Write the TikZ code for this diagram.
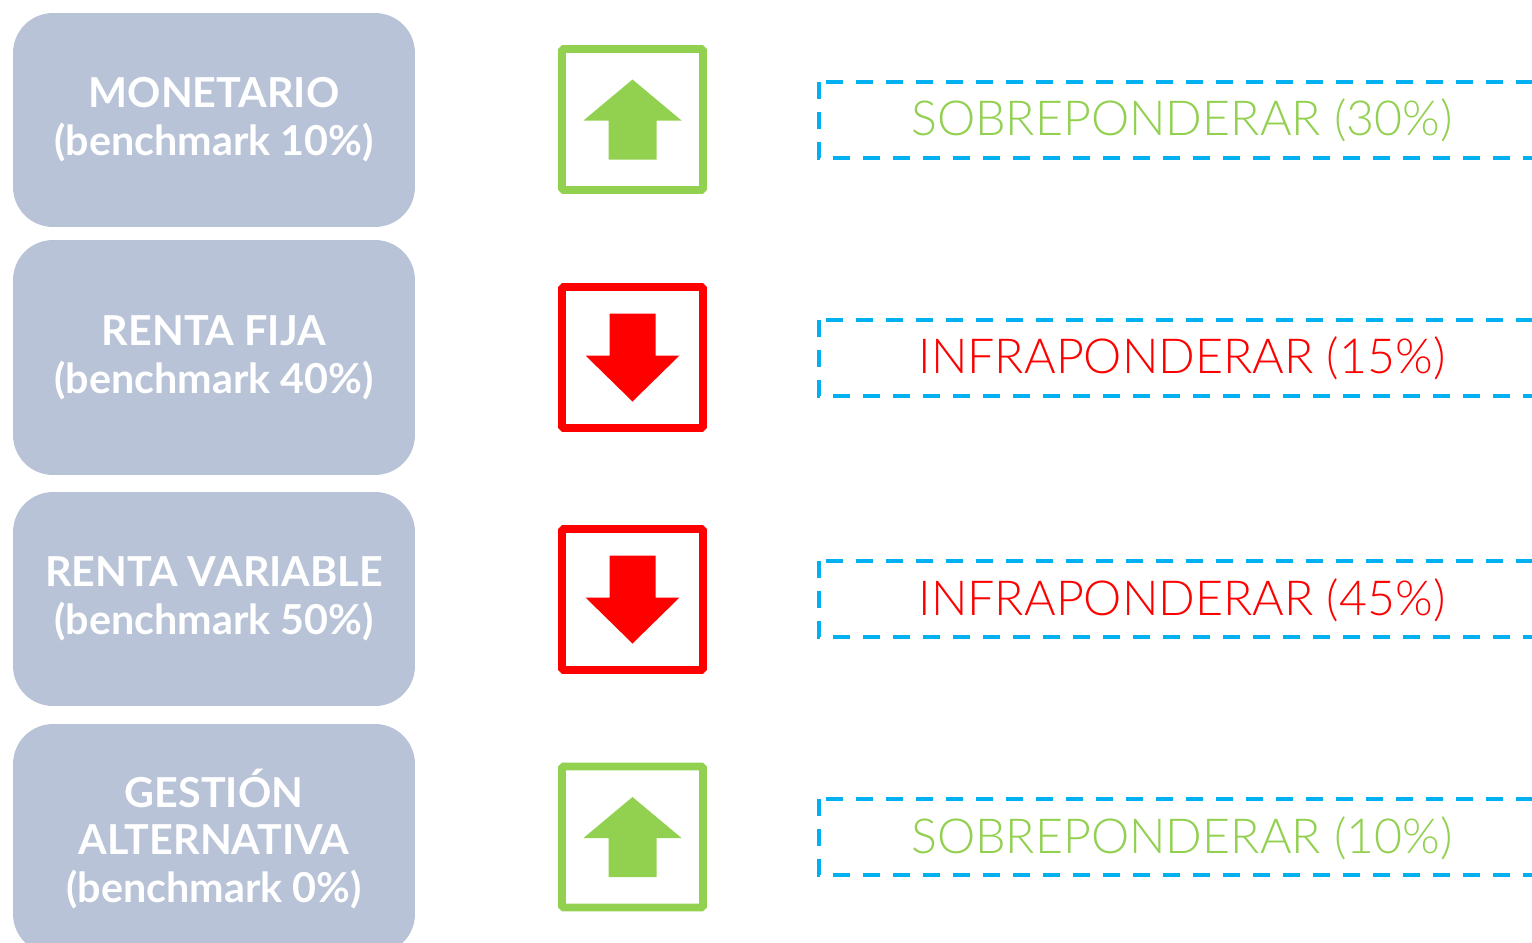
\documentclass[tikz,border=0pt]{standalone}
\usepackage{fontspec}
\setmainfont{Lato}
\newfontfamily\lightfont{Lato Light}
\usetikzlibrary{positioning}
\definecolor{boxgray}{HTML}{B8C3D7}
\definecolor{upgreen}{HTML}{92D050}
\definecolor{downred}{HTML}{FF0000}
\definecolor{dashblue}{HTML}{00B0F0}

\begin{document}
\begin{tikzpicture}[x=0.02cm, y=-0.02cm,
    assetbox/.style={fill=boxgray, rounded corners=0.8cm, minimum width=8.04cm, text=white,
        font=\bfseries\fontsize{23.5}{27.2}\selectfont, align=center},
    iconbox/.style={draw, line width=4.5pt, rounded corners=1pt, minimum width=2.82cm, minimum height=2.82cm},
    dashbox/.style={draw=dashblue, line width=2.8pt, dash pattern=on 0.34cm off 0.26cm},
    verdict/.style={font=\lightfont\fontsize{27.5}{30}\selectfont}]
    \useasboundingbox (0,0) rectangle (1532,943);
    \clip (0,0) rectangle (1532,943);

    % asset classes
    \node[assetbox, minimum height=4.28cm] (monetario) at (214,120) {MONETARIO\\(benchmark 10\%)};
    \node[assetbox, minimum height=4.7cm] (fija) at (214,357.5) {RENTA FIJA\\(benchmark 40\%)};
    \node[assetbox, minimum height=4.28cm] (variable) at (214,599) {RENTA VARIABLE\\(benchmark 50\%)};
    \node[assetbox, minimum height=4.6cm] (alternativa) at (214,839) {GESTIÓN\\ALTERNATIVA\\(benchmark 0\%)};

    % icons
    \node[iconbox, draw=upgreen] (icon1) at (632.5,119.5) {};
    \node[iconbox, draw=downred] (icon2) at (632.5,357.5) {};
    \node[iconbox, draw=downred] (icon3) at (632.5,599.5) {};
    \node[iconbox, draw=upgreen] (icon4) at (632.5,837) {};

    \fill[upgreen] (icon1.center) ++(0,-40) -- ++(49,41) -- ++(-25,0) -- ++(0,39) -- ++(-48,0) -- ++(0,-39) -- ++(-25,0) -- cycle;
    \fill[upgreen] (icon4.center) ++(0,-40) -- ++(49,41) -- ++(-25,0) -- ++(0,39) -- ++(-48,0) -- ++(0,-39) -- ++(-25,0) -- cycle;
    \fill[downred] (icon2.center) ++(0,44) -- ++(47,-46) -- ++(-24,0) -- ++(0,-42) -- ++(-46,0) -- ++(0,42) -- ++(-24,0) -- cycle;
    \fill[downred] (icon3.center) ++(0,44) -- ++(47,-46) -- ++(-24,0) -- ++(0,-42) -- ++(-46,0) -- ++(0,42) -- ++(-24,0) -- cycle;

    % verdicts
    \draw[dashbox] (819,82) rectangle (1580,158);
    \draw[dashbox] (819,320) rectangle (1580,396);
    \draw[dashbox] (819,561) rectangle (1580,637);
    \draw[dashbox] (819,799) rectangle (1580,875);

    \node[verdict, text=upgreen] (sobre1) at (1182,120) {SOBREPONDERAR (30\%)};
    \node[verdict, text=downred] (infra1) at (1182,358) {INFRAPONDERAR (15\%)};
    \node[verdict, text=downred] (infra2) at (1182,600) {INFRAPONDERAR (45\%)};
    \node[verdict, text=upgreen] (sobre2) at (1182,838) {SOBREPONDERAR (10\%)};
\end{tikzpicture}
\end{document}
